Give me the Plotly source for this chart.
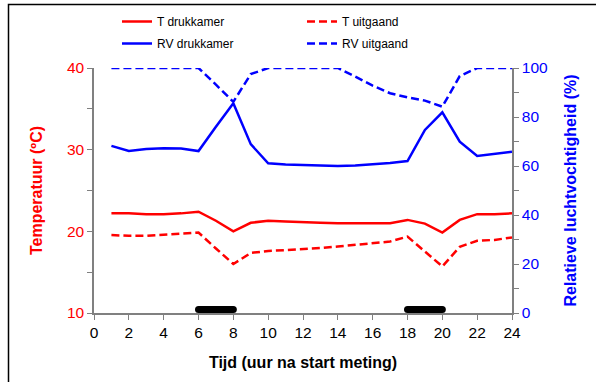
import plotly.graph_objects as go

hours = list(range(1, 25))
t_drukkamer = [22.2, 22.2, 22.1, 22.1, 22.2, 22.4, 21.3, 20.0, 21.05, 21.3, 21.2, 21.1,
               21.05, 21.0, 21.0, 21.0, 21.0, 21.4, 20.95, 19.85, 21.4, 22.1, 22.1, 22.2]
t_uitgaand = [19.55, 19.45, 19.45, 19.6, 19.75, 19.85, 17.9, 16.0, 17.35, 17.6, 17.7, 17.8,
              17.95, 18.15, 18.35, 18.55, 18.75, 19.35, 17.55, 15.7, 18.1, 18.85, 18.95, 19.25]
rv_drukkamer = [68.2, 66.1, 66.9, 67.2, 67.1, 66.1, 76.0, 85.6, 68.9, 61.1, 60.6, 60.3,
                60.0, 60.0, 60.2, 60.6, 61.2, 62.0, 74.7, 81.9, 69.9, 64.1, 65.0, 65.8]
rv_uitgaand = [100, 100, 100, 100, 100, 100, 93.2, 86.2, 97.5, 100, 100, 100,
               100, 100, 96.5, 92.8, 89.7, 88.0, 86.7, 84.2, 96.7, 100, 100, 100]

night_start = [6, 18]
night_end = [8, 20]
night_level = 10.42

series_names = ["T drukkamer", "T uitgaand", "RV drukkamer", "RV uitgaand"]

FONT = "Liberation Sans, Arial, sans-serif"
RED = "#FF0000"
BLUE = "#0000FF"
GRAY = "#808080"

fig = go.Figure()
fig.add_trace(go.Scatter(x=hours, y=t_drukkamer, name=series_names[0], mode="lines",
                         line=dict(color=RED, width=2.5), yaxis="y", legend="legend"))
fig.add_trace(go.Scatter(x=hours, y=t_uitgaand, name=series_names[1], mode="lines",
                         line=dict(color=RED, width=2.5, dash="8px,4px"), yaxis="y",
                         legend="legend"))
fig.add_trace(go.Scatter(x=hours, y=rv_drukkamer, name=series_names[2], mode="lines",
                         line=dict(color=BLUE, width=2.5), yaxis="y2", legend="legend2"))
fig.add_trace(go.Scatter(x=hours, y=rv_uitgaand, name=series_names[3], mode="lines",
                         line=dict(color=BLUE, width=2.5, dash="8px,4px"), yaxis="y2",
                         legend="legend2"))

for s, e in zip(night_start, night_end):
    fig.add_trace(go.Scatter(x=[s, e], y=[night_level, night_level], mode="lines+markers",
                             line=dict(color="black", width=7),
                             marker=dict(color="black", size=7),
                             showlegend=False, cliponaxis=False, yaxis="y",
                             hoverinfo="skip"))

L, R, T, B = 94, 84, 68, 69
W, H = 596, 382
pw = W - L - R
ph = H - T - B

def px_x(px):
    return (px - L) / pw

def px_y(py):
    return (H - B - py) / ph

def legend_at(top_px):
    return dict(orientation="h", xref="container", yref="container",
                x=117 / W, xanchor="left", y=1 - top_px / H, yanchor="top",
                entrywidth=140, entrywidthmode="pixels", traceorder="normal",
                font=dict(family=FONT, size=12, color="black"),
                bgcolor="rgba(0,0,0,0)", itemclick=False, itemdoubleclick=False)

fig.update_layout(
    width=W, height=H,
    margin=dict(l=L, r=R, t=T, b=B, pad=0, autoexpand=False),
    paper_bgcolor="white", plot_bgcolor="white",
    font=dict(family=FONT, size=15, color="black"),
    showlegend=True,
    legend=legend_at(7),
    legend2=legend_at(29),
    xaxis=dict(range=[0, 24], dtick=2, tick0=0, showgrid=False, zeroline=False,
               automargin=False,
               showline=True, linecolor=GRAY, linewidth=1.5,
               ticks="outside", ticklen=5, tickcolor=GRAY, tickwidth=1,
               tickfont=dict(family=FONT, size=15.5, color="black"),
               title=dict(text="<b>Tijd (uur na start meting)</b>",
                          font=dict(family=FONT, size=16, color="black"), standoff=16)),
    yaxis=dict(range=[10, 40], dtick=10, tick0=10, showgrid=False, zeroline=False,
               automargin=False,
               showline=True, linecolor=GRAY, linewidth=1.5,
               ticks="outside", ticklen=5, tickcolor=GRAY, tickwidth=1,
               minor=dict(dtick=5, ticks="outside", ticklen=5, tickcolor=GRAY, showgrid=False),
               tickfont=dict(family=FONT, size=15.5, color=RED),
               title=dict(text="<b>Temperatuur (ºC)</b>",
                          font=dict(family=FONT, size=16, color=RED), standoff=20)),
    yaxis2=dict(range=[0, 100], dtick=20, tick0=0, overlaying="y", side="right",
                showgrid=False, zeroline=False, automargin=False,
                showline=True, linecolor=GRAY, linewidth=1.5,
                ticks="outside", ticklen=5, tickcolor=GRAY, tickwidth=1,
                minor=dict(dtick=10, ticks="outside", ticklen=5, tickcolor=GRAY, showgrid=False),
                tickfont=dict(family=FONT, size=15.5, color=BLUE),
                title=dict(text="<b>Relatieve luchtvochtigheid (%)</b>",
                           font=dict(family=FONT, size=16, color=BLUE), standoff=18)),
    shapes=[dict(type="rect", xref="paper", yref="paper",
                 x0=px_x(8.5), x1=px_x(800), y0=px_y(600), y1=px_y(4.5),
                 line=dict(color="black", width=1.5), fillcolor="rgba(0,0,0,0)", layer="above")],
)

fig.write_html("out.html", config={"displayModeBar": False},
               post_script="document.body.style.margin='0';")
